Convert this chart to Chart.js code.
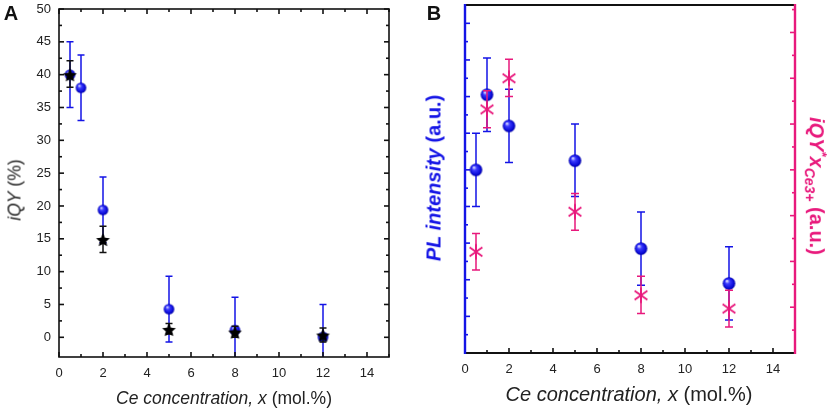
<!DOCTYPE html>
<html lang="en">
<head>
  <meta charset="UTF-8">
  <title>iQY and PL intensity vs Ce concentration</title>
  <script src="https://cdn.jsdelivr.net/npm/chart.js"></script>
  <style>
    body {
      margin: 0;
      background: #fff;
      font-family: "Liberation Sans", Arial, sans-serif;
    }
    #wrap {
      position: relative;
      width: 830px;
      height: 409px;
      overflow: hidden;
    }
    canvas {
      position: absolute;
      top: 0;
    }
    .lbl {
      position: absolute;
      white-space: nowrap;
      transform: translate(-50%, -50%);
      color: #222;
    }
    .rot-l { transform: translate(-50%, -50%) rotate(-90deg); }
    .rot-r { transform: translate(-50%, -50%) rotate(90deg); }
    .panel { font-weight: bold; font-size: 20px; color: #111; }
  </style>
</head>
<body>
<div id="wrap">
  <canvas id="chartA" width="415" height="409" style="left:0"></canvas>
  <canvas id="chartB" width="415" height="409" style="left:415px"></canvas>

  <div class="lbl panel" style="left:11px;top:13px">A</div>
  <div class="lbl panel" style="left:434px;top:13px">B</div>

  <div class="lbl rot-l" style="left:15px;top:190px;font-size:17.5px"><i>iQY</i> (%)</div>
  <div class="lbl" style="left:224px;top:398px;font-size:17.5px"><i>Ce concentration, x</i> (mol.%)</div>

  <div class="lbl" style="left:629px;top:394px;font-size:20px"><i>Ce concentration, x</i> (mol.%)</div>
  <div class="lbl rot-l" style="left:434px;top:178px;font-size:20px;font-weight:bold;color:#1414e6"><i>PL intensity</i> (a.u.)</div>
  <div class="lbl rot-r" style="left:816px;top:186px;font-size:20px;font-weight:bold;color:#e8197c"><i>iQY<sup style="font-size:13px">*</sup>x<sub style="font-size:14px">Ce3+</sub></i> (a.u.)</div>
</div>

<script>
  // ---- data ----
  const xTicks = [0, 2, 4, 6, 8, 10, 12, 14];
  const yTicksA = [0, 5, 10, 15, 20, 25, 30, 35, 40, 45, 50];

  // panel A: iQY (%)
  const xCircleA = [0.5, 1, 2, 5, 8, 12];
  const iqyCircle = [40, 38, 19.4, 4.3, 1.1, 0.05];
  const iqyCircleLow = [35, 33, 14.4, -0.7, -3.9, -5];
  const iqyCircleHigh = [45, 43, 24.4, 9.3, 6.1, 5.0];

  const xStarA = [0.5, 2, 5, 8, 12];
  const iqyStar = [40, 14.9, 1.2, 0.8, 0.35];
  const iqyStarLow = [38.1, 12.9, 0.5, 0.0, -0.7];
  const iqyStarHigh = [42.1, 16.9, 2.1, 1.7, 1.4];

  // panel B: PL intensity (left axis, a.u.) and iQY*x (right axis, a.u.)
  const xB = [0.5, 1, 2, 5, 8, 12];
  const plInt = [10.0, 14.1, 12.4, 10.5, 5.7, 3.8];
  const plLow = [8.0, 12.1, 10.4, 8.55, 3.7, 1.8];
  const plHigh = [12.0, 16.1, 14.4, 12.5, 7.7, 5.8];

  const qyX = [4.42, 10.64, 12.0, 6.17, 2.52, 1.94];
  const qyXLow = [3.62, 9.84, 11.2, 5.36, 1.72, 1.14];
  const qyXHigh = [5.22, 11.46, 12.83, 6.97, 3.35, 2.74];

  const BLUE = '#1414e6';
  const PINK = '#e8197c';
  const FONT = { family: '"Liberation Sans", Arial, sans-serif', size: 13 };

  // ---- marker images ----
  function sphere(r) {
    const c = document.createElement('canvas');
    const s = Math.ceil(2 * r + 2);
    c.width = c.height = s;
    const g = c.getContext('2d');
    const m = s / 2;
    const grad = g.createRadialGradient(m - r * 0.35, m - r * 0.4, r * 0.08, m, m, r);
    grad.addColorStop(0, '#d8d8ff');
    grad.addColorStop(0.3, '#3c3cff');
    grad.addColorStop(0.8, '#0a0ad8');
    grad.addColorStop(1, '#0000a0');
    g.fillStyle = grad;
    g.beginPath();
    g.arc(m, m, r, 0, Math.PI * 2);
    g.fill();
    return c;
  }

  function star5(r) {
    const c = document.createElement('canvas');
    const s = Math.ceil(2 * r + 2);
    c.width = c.height = s;
    const g = c.getContext('2d');
    const m = s / 2;
    g.fillStyle = '#000';
    g.beginPath();
    for (let i = 0; i < 10; i++) {
      const rr = i % 2 ? r * 0.47 : r;
      const a = -Math.PI / 2 + i * Math.PI / 5;
      g.lineTo(m + rr * Math.cos(a), m + 1 + rr * Math.sin(a));
    }
    g.closePath();
    g.fill();
    return c;
  }

  function asterisk(r, color) {
    const c = document.createElement('canvas');
    const s = Math.ceil(2 * r + 4);
    c.width = c.height = s;
    const g = c.getContext('2d');
    const m = s / 2;
    g.strokeStyle = color;
    g.lineWidth = 1.8;
    g.beginPath();
    [90, 35, 145].forEach(d => {
      const a = d * Math.PI / 180;
      g.moveTo(m - r * Math.cos(a), m - r * Math.sin(a));
      g.lineTo(m + r * Math.cos(a), m + r * Math.sin(a));
    });
    g.stroke();
    return c;
  }

  const pts = (xs, ys) => xs.map((x, i) => ({ x: x, y: ys[i] }));

  // ---- error bars, drawn just before each dataset's markers ----
  const errorBars = {
    id: 'errorBars',
    beforeDatasetDraw(chart, args) {
      const ds = chart.data.datasets[args.index];
      if (!ds.errLow) return;
      const xs = chart.scales.x;
      const ys = chart.scales[ds.yAxisID || 'y'];
      const area = chart.chartArea;
      const ctx = chart.ctx;
      const cap = ds.capWidth || 4;
      ctx.save();
      ctx.beginPath();
      ctx.rect(area.left, area.top, area.right - area.left, area.bottom - area.top);
      ctx.clip();
      ctx.strokeStyle = ds.errColor;
      ctx.lineWidth = 1.5;
      ds.data.forEach((p, i) => {
        const px = xs.getPixelForValue(p.x);
        const lo = ys.getPixelForValue(ds.errLow[i]);
        const hi = ys.getPixelForValue(ds.errHigh[i]);
        ctx.beginPath();
        ctx.moveTo(px, lo); ctx.lineTo(px, hi);
        ctx.moveTo(px - cap, lo); ctx.lineTo(px + cap, lo);
        ctx.moveTo(px - cap, hi); ctx.lineTo(px + cap, hi);
        ctx.stroke();
      });
      ctx.restore();
    }
  };

  function tickMarks(ctx, scale, values, len, side, area) {
    values.forEach(v => {
      const p = scale.getPixelForValue(v);
      ctx.beginPath();
      if (side === 'bottom') { ctx.moveTo(p, area.bottom); ctx.lineTo(p, area.bottom - len); }
      if (side === 'top') { ctx.moveTo(p, area.top); ctx.lineTo(p, area.top + len); }
      if (side === 'left') { ctx.moveTo(area.left, p); ctx.lineTo(area.left + len, p); }
      if (side === 'right') { ctx.moveTo(area.right, p); ctx.lineTo(area.right - len, p); }
      ctx.stroke();
    });
  }

  const range = (a, b, step) => {
    const out = [];
    for (let v = a; v <= b + 1e-9; v += step) out.push(v);
    return out;
  };

  const frameA = {
    id: 'frameA',
    afterDatasetsDraw(chart) {
      const ctx = chart.ctx, a = chart.chartArea;
      ctx.save();
      ctx.strokeStyle = '#111';
      ctx.lineWidth = 1.6;
      ctx.strokeRect(a.left, a.top, a.right - a.left, a.bottom - a.top);
      const xMaj = xTicks, xMin = range(1, 15, 2);
      const yMaj = yTicksA, yMin = range(2.5, 47.5, 5);
      ['bottom', 'top'].forEach(s => {
        tickMarks(ctx, chart.scales.x, xMaj, 5, s, a);
        tickMarks(ctx, chart.scales.x, xMin, 3, s, a);
      });
      ['left', 'right'].forEach(s => {
        tickMarks(ctx, chart.scales.y, yMaj, 5, s, a);
        tickMarks(ctx, chart.scales.y, yMin, 3, s, a);
      });
      ctx.restore();
    }
  };

  const frameB = {
    id: 'frameB',
    afterDatasetsDraw(chart) {
      const ctx = chart.ctx, a = chart.chartArea;
      ctx.save();
      ctx.lineWidth = 2;
      ctx.strokeStyle = '#111';
      ctx.beginPath();
      ctx.moveTo(a.left, a.top); ctx.lineTo(a.right, a.top);
      ctx.moveTo(a.left, a.bottom); ctx.lineTo(a.right, a.bottom);
      ctx.stroke();
      ctx.lineWidth = 1.6;
      tickMarks(ctx, chart.scales.x, xTicks, 5, 'bottom', a);
      tickMarks(ctx, chart.scales.x, range(1, 15, 2), 3, 'bottom', a);
      ctx.strokeStyle = BLUE;
      tickMarks(ctx, chart.scales.y, range(2, 18, 2), 5, 'left', a);
      tickMarks(ctx, chart.scales.y, range(1, 17, 2), 3, 'left', a);
      ctx.strokeStyle = PINK;
      tickMarks(ctx, chart.scales.y2, range(2, 14, 2), 5, 'right', a);
      tickMarks(ctx, chart.scales.y2, range(1, 15, 2), 3, 'right', a);
      ctx.lineWidth = 2.4;
      ctx.strokeStyle = BLUE;
      ctx.beginPath(); ctx.moveTo(a.left, a.top - 1); ctx.lineTo(a.left, a.bottom + 1); ctx.stroke();
      ctx.strokeStyle = PINK;
      ctx.beginPath(); ctx.moveTo(a.right, a.top - 1); ctx.lineTo(a.right, a.bottom + 1); ctx.stroke();
      ctx.restore();
    }
  };

  const setTicks = list => scale => { scale.ticks = list.map(v => ({ value: v })); };
  // fixed axis sizes, no extra room for overflowing edge labels
  const fixH = h => s => { s.height = h; s.paddingLeft = 0; s.paddingRight = 0; };
  const fixW = w => s => { s.width = w; s.paddingTop = 0; s.paddingBottom = 0; };

  // ---- panel A ----
  new Chart(document.getElementById('chartA'), {
    type: 'scatter',
    data: {
      datasets: [
        {
          label: 'iQY (star)',
          data: pts(xStarA, iqyStar),
          pointStyle: star5(7.2),
          errLow: iqyStarLow, errHigh: iqyStarHigh, errColor: '#111', capWidth: 3.5
        },
        {
          label: 'iQY (circle)',
          data: pts(xCircleA, iqyCircle),
          pointStyle: sphere(5.3),
          errLow: iqyCircleLow, errHigh: iqyCircleHigh, errColor: BLUE, capWidth: 3.5
        }
      ]
    },
    options: {
      responsive: false,
      animation: false,
      layout: { padding: { top: 9, right: 26, left: 0, bottom: 0 } },
      plugins: { legend: { display: false }, tooltip: { enabled: false } },
      scales: {
        x: {
          type: 'linear', min: 0, max: 15,
          afterBuildTicks: setTicks(xTicks),
          afterFit: fixH(52),
          grid: { display: false, drawTicks: false },
          border: { display: false },
          ticks: { autoSkip: false, padding: 9, color: '#222', font: FONT }
        },
        y: {
          type: 'linear', min: -3, max: 50,
          afterBuildTicks: setTicks(yTicksA),
          afterFit: fixW(59),
          grid: { display: false, drawTicks: false },
          border: { display: false },
          ticks: { autoSkip: false, padding: 8, color: '#222', font: FONT }
        }
      }
    },
    plugins: [errorBars, frameA]
  });

  // ---- panel B ----
  new Chart(document.getElementById('chartB'), {
    type: 'scatter',
    data: {
      datasets: [
        {
          label: 'iQY*x',
          data: pts(xB, qyX),
          yAxisID: 'y2',
          pointStyle: asterisk(7.8, PINK),
          errLow: qyXLow, errHigh: qyXHigh, errColor: PINK, capWidth: 4
        },
        {
          label: 'PL intensity',
          data: pts(xB, plInt),
          yAxisID: 'y',
          pointStyle: sphere(6.3),
          errLow: plLow, errHigh: plHigh, errColor: BLUE, capWidth: 4
        }
      ]
    },
    options: {
      responsive: false,
      animation: false,
      layout: { padding: { top: 5, right: 0, left: 0, bottom: 0 } },
      plugins: { legend: { display: false }, tooltip: { enabled: false } },
      scales: {
        x: {
          type: 'linear', min: 0, max: 15,
          afterBuildTicks: setTicks(xTicks),
          afterFit: fixH(56),
          grid: { display: false, drawTicks: false },
          border: { display: false },
          ticks: { autoSkip: false, padding: 9, color: '#222', font: FONT }
        },
        y: {
          type: 'linear', position: 'left', min: 0, max: 19,
          afterFit: fixW(50),
          grid: { display: false, drawTicks: false },
          border: { display: false },
          ticks: { display: false }
        },
        y2: {
          type: 'linear', position: 'right', min: 0, max: 15.2,
          afterFit: fixW(35),
          grid: { display: false, drawTicks: false },
          border: { display: false },
          ticks: { display: false }
        }
      }
    },
    plugins: [errorBars, frameB]
  });
</script>
</body>
</html>
